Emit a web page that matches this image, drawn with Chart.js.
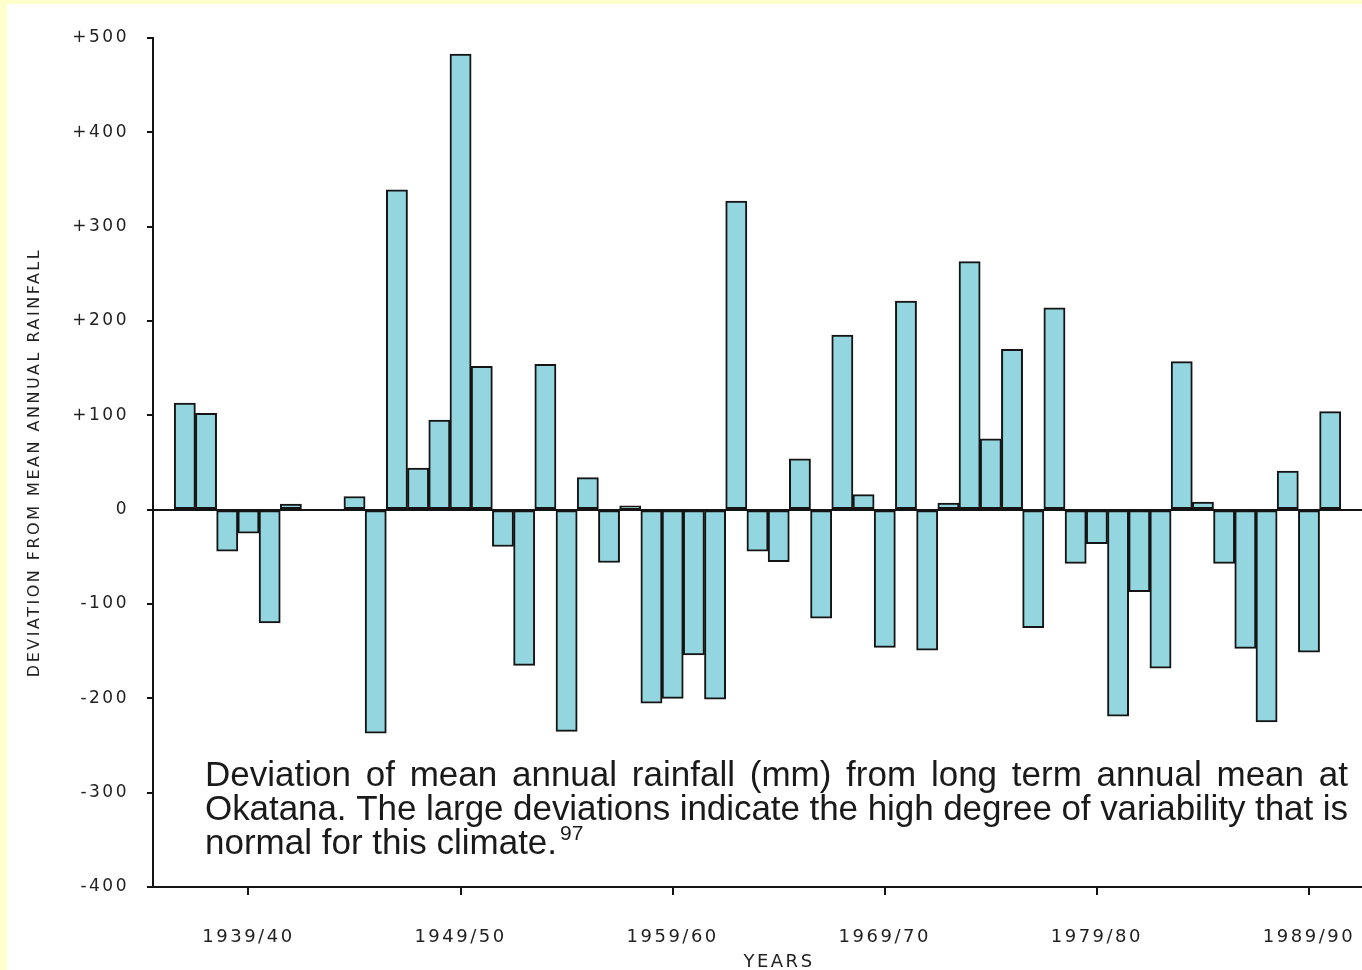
<!DOCTYPE html>
<html>
<head>
<meta charset="utf-8">
<script src="https://cdn.jsdelivr.net/npm/chart.js@4.4.1/dist/chart.umd.min.js"></script>
<style>
  html, body { margin: 0; padding: 0; background: #ffffcc; }
  #wrap { position: absolute; left: 7px; top: 4px; width: 1355px; height: 966px; background: #fff; }
  canvas { display: block; }
</style>
</head>
<body>
<div id="wrap"><canvas id="chart" width="1355" height="966"></canvas></div>
<script>
// seasons 1935/36 .. 1991/92 (first and last are empty padding slots)
const firstYear = 1935;
const seasons = [];
for (let y = firstYear; y <= 1991; y++) {
  seasons.push(y + "/" + String((y + 1) % 100).padStart(2, "0"));
}

// deviation from long term mean, mm (null = no record)
const deviation = [
  null, 113, 102, -44, -25, -120, 6, null, null, 14,
  -237, 339, 44, 95, 483, 152, -39, -165, 154, -235,
  34, -56, 4, -205, -200, -154, -201, 327, -44, -55,
  54, -115, 185, 16, -146, 221, -149, 7, 263, 75,
  170, -125, 214, -57, -36, -219, -87, -168, 157, 8,
  -57, -147, -225, 41, -151, 104, null
];

const shownSeasons = ["1939/40", "1949/50", "1959/60", "1969/70", "1979/80", "1989/90"];

const captionLines = [
  "Deviation of mean annual rainfall (mm) from long term annual mean at",
  "Okatana. The large deviations indicate the high degree of variability that is",
  "normal for this climate."
];
const captionNote = "97";
const xTitle = "YEARS";

const ink = "#141414";
const barFill = "#93d6df";

// wide lettering, like the printed figure
const spacing = {
  id: "spacing",
  beforeLayout(chart) { chart.ctx.letterSpacing = "2.5px"; },
  beforeDraw(chart) { chart.ctx.letterSpacing = "2.5px"; }
};

// caption set inside the plot, first two lines justified
const caption = {
  id: "caption",
  afterDraw(chart) {
    const ctx = chart.ctx;
    const left = 198, right = 1341;
    const base = [782, 816, 850];
    ctx.save();

    // axis name sits a little right of centre in the original
    ctx.letterSpacing = "2.5px";
    ctx.fillStyle = "#222";
    ctx.font = '18px "DejaVu Sans", sans-serif';
    ctx.textAlign = "center";
    ctx.textBaseline = "middle";
    ctx.fillText(xTitle, 772, 958);

    ctx.letterSpacing = "0px";
    ctx.textAlign = "left";
    ctx.fillStyle = "#1a1a1a";
    ctx.textBaseline = "alphabetic";
    ctx.font = '35px "Liberation Sans", Arial, sans-serif';
    captionLines.forEach((line, i) => {
      if (i < 2) {
        const words = line.split(" ");
        const natural = ctx.measureText(line).width;
        const extra = (right - left) - natural;
        if (extra >= 0) {
          const gap = ctx.measureText(" ").width + extra / (words.length - 1);
          let x = left;
          words.forEach(w => {
            ctx.fillText(w, x, base[i]);
            x += ctx.measureText(w).width + gap;
          });
        } else {
          ctx.letterSpacing = (extra / (line.length - 1)) + "px";
          ctx.fillText(line, left, base[i]);
          ctx.letterSpacing = "0px";
        }
      } else {
        ctx.fillText(line, left, base[i]);
        const w = ctx.measureText(line).width;
        ctx.font = '21px "Liberation Sans", Arial, sans-serif';
        ctx.fillText(captionNote, left + w + 3, base[i] - 14);
      }
    });
    ctx.restore();
  }
};

new Chart(document.getElementById("chart"), {
  type: "bar",
  data: {
    labels: seasons,
    datasets: [{
      data: deviation,
      backgroundColor: barFill,
      borderColor: ink,
      borderWidth: 2,
      borderSkipped: false,
      barPercentage: 1,
      categoryPercentage: 1
    }]
  },
  options: {
    responsive: false,
    animation: false,
    layout: { padding: { top: 34, left: 0, right: 0, bottom: 0 } },
    plugins: {
      legend: { display: false },
      tooltip: { enabled: false }
    },
    scales: {
      x: {
        type: "category",
        offset: true,
        afterFit(scale) {
          scale.height = 83;
          scale.paddingLeft = 0;
          scale.paddingRight = 0;
        },
        border: { color: ink, width: 2 },
        grid: {
          offset: false,
          drawOnChartArea: false,
          tickLength: 8,
          lineWidth: 2,
          color: c => shownSeasons.includes(seasons[c.index]) ? ink : "rgba(0,0,0,0)"
        },
        ticks: {
          autoSkip: false,
          maxRotation: 0,
          padding: 32,
          color: "#222",
          font: { family: '"DejaVu Sans", sans-serif', size: 18 },
          callback(v, i) { return shownSeasons.includes(seasons[i]) ? seasons[i] : ""; }
        }
      },
      y: {
        min: -400,
        max: 500,
        z: 1,
        afterFit(scale) { scale.width = 146; },
        border: { color: ink, width: 2 },
        grid: {
          tickLength: 6,
          lineWidth: 2,
          tickColor: ink,
          color: c => c.tick && c.tick.value === 0 ? ink : "rgba(0,0,0,0)"
        },
        ticks: {
          stepSize: 100,
          padding: 18,
          color: "#222",
          font: { family: '"DejaVu Sans", sans-serif', size: 17 },
          callback: v => v > 0 ? "+" + v : String(v)
        },
        title: {
          display: true,
          text: "DEVIATION FROM MEAN ANNUAL RAINFALL",
          color: "#222",
          font: { family: '"DejaVu Sans", sans-serif', size: 16, lineHeight: 1.2 },
          padding: { top: 18, bottom: 0 }
        }
      }
    }
  },
  plugins: [spacing, caption]
});
</script>
</body>
</html>
